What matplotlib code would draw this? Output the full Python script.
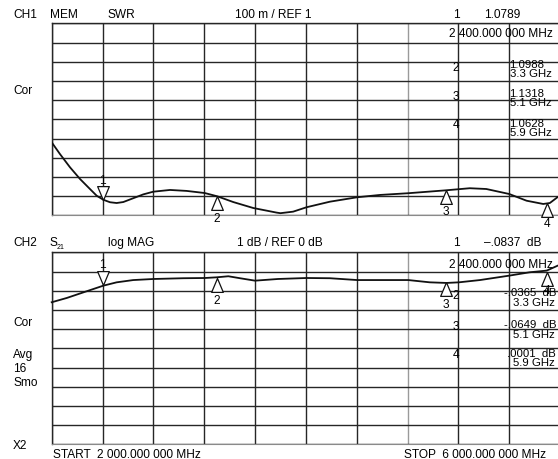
import numpy as np
import matplotlib
matplotlib.use("Agg")
import matplotlib.pyplot as plt

# --- data ---
# CH1: SWR vs frequency (GHz)
swr_freq = [2.0, 2.065, 2.144, 2.223, 2.301, 2.354, 2.406, 2.459, 2.511, 2.563,
            2.642, 2.721, 2.80, 2.931, 3.062, 3.204, 3.303, 3.429, 3.586, 3.77,
            3.80, 3.90, 4.006, 4.19, 4.404, 4.583, 4.806, 5.10, 5.29, 5.42,
            5.60, 5.737, 5.868, 5.92, 5.98]
swr_val = [1.380, 1.319, 1.250, 1.189, 1.137, 1.102, 1.081, 1.068, 1.064, 1.069,
           1.089, 1.109, 1.123, 1.132, 1.127, 1.116, 1.099, 1.069, 1.038, 1.014,
           1.011, 1.019, 1.042, 1.071, 1.094, 1.106, 1.115, 1.130, 1.141, 1.137,
           1.111, 1.076, 1.059, 1.064, 1.094]

# CH2: S21 log MAG (dB)
s21_freq = [2.0, 2.118, 2.249, 2.406, 2.511, 2.642, 2.80, 3.036, 3.204, 3.298,
            3.390, 3.482, 3.60, 3.78, 4.006, 4.19, 4.404, 4.583, 4.806, 4.976,
            5.107, 5.204, 5.37, 5.60, 5.76, 5.895, 5.98]
s21_val = [-0.197, -0.169, -0.132, -0.088, -0.066, -0.051, -0.044, -0.039, -0.0375, -0.033,
           -0.026, -0.039, -0.055, -0.044, -0.0375, -0.039, -0.051, -0.051, -0.051, -0.066,
           -0.070, -0.066, -0.051, -0.022, 0.0, 0.011, 0.043]

# markers (GHz, value)
swr_mk_freq = [2.4, 3.3, 5.1, 5.9]
swr_mk_val = [1.0789, 1.0988, 1.1318, 1.0628]
s21_mk_freq = [2.4, 3.3, 5.1, 5.9]
s21_mk_val = [-0.0837, -0.0365, -0.0649, 0.0001]

FONT = ["Liberation Sans", "DejaVu Sans"]
W, H = 558, 460
fig = plt.figure(figsize=(W / 100, H / 100), dpi=100)


def put(x, y, s, size=8.6, ha="left", **kw):
    """text at pixel coords (from top-left)"""
    fig.text(x / W, 1 - y / H, s, fontsize=size, ha=ha, va="center",
             family=FONT, **kw)


def make_axes(top_px, ylim):
    left, right, h = 51.7, 560.0, 192.0
    ax = fig.add_axes([left / W, 1 - (top_px + h) / H, (right - left) / W, h / H])
    ax.set_xlim(2.0, 6.0)
    ax.set_ylim(*ylim)
    ax.set_xticks(np.linspace(2.0, 6.0, 11))
    ax.set_yticks(np.linspace(ylim[0], ylim[1], 11))
    ax.tick_params(length=0, labelbottom=False, labelleft=False)
    ax.grid(True, color="#262626", lw=1.0)
    ax.get_xgridlines()[7].set_color("#9a9a9a")
    for s in ("left", "top"):
        ax.spines[s].set_color("#262626")
        ax.spines[s].set_linewidth(1.0)
    ax.spines["bottom"].set_color("#8a8a8a")
    ax.spines["right"].set_visible(False)
    ax.set_facecolor("white")
    return ax


UP = [(0, 0), (-0.42, -1), (0.42, -1), (0, 0)]
DOWN = [(0, 0), (-0.42, 1), (0.42, 1), (0, 0)]


def draw_markers(ax, freqs, vals, offsets):
    for i, (f, v, dy) in enumerate(zip(freqs, vals, offsets)):
        shape = DOWN if i == 0 else UP
        ax.plot([f], [v], marker=shape, ms=20, mfc="white", mec="#111",
                mew=0.9, ls="none", zorder=5, clip_on=False)
        ax.annotate(str(i + 1), xy=(f, v), xytext=(0, dy), textcoords="offset pixels",
                    ha="center", va="center", fontsize=8.6, family=FONT,
                    zorder=6, annotation_clip=False)


# ---- CH1 : SWR ----
ax1 = make_axes(24.3, (1.0, 2.0))
ax1.plot(swr_freq, swr_val, color="#111", lw=1.3, zorder=4)
draw_markers(ax1, swr_mk_freq, swr_mk_val, [20, -22, -21, -20])

# ---- CH2 : S21 ----
ax2 = make_axes(253.3, (-1.1316, 0.1316))
ax2.plot(s21_freq, s21_val, color="#111", lw=1.3, zorder=4, clip_on=False)
draw_markers(ax2, s21_mk_freq, s21_mk_val, [21, -22, -22, -18])

# ---- CH1 annotations ----
put(13, 14.7, "CH1")
put(50, 14.7, "MEM")
put(108, 14.7, "SWR")
put(273, 14.7, "100 m / REF 1", ha="center")
put(456, 14.7, "1", ha="center")
put(484, 14.7, "1.0789")
put(449, 34, "2 400.000 000 MHz")
put(13, 90.7, "Cor")

put(456, 68, "2", ha="center")
put(509, 64.5, "1.0988", size=8.2)
put(510, 74, "3.3 GHz", size=8.2)
put(456, 97, "3", ha="center")
put(509, 94, "1.1318", size=8.2)
put(510, 103.5, "5.1 GHz", size=8.2)
put(456, 125, "4", ha="center")
put(509, 124.5, "1.0628", size=8.2)
put(510, 133.5, "5.9 GHz", size=8.2)

# ---- CH2 annotations ----
put(13, 243.3, "CH2")
put(50, 243.3, "S")
put(57, 247.5, "21", size=5)
put(108, 243.3, "log MAG")
put(280, 243.3, "1 dB / REF 0 dB", ha="center")
put(456, 243.3, "1", ha="center")
put(542, 243.3, "\u2013.0837  dB", ha="right")
put(449, 265, "2 400.000 000 MHz")

put(456, 296, "2", ha="center")
put(556, 293.5, "-.0365  dB", ha="right", size=8.2)
put(555, 302.5, "3.3 GHz", ha="right", size=8.2)
put(456, 326.7, "3", ha="center")
put(556, 325.5, "-.0649  dB", ha="right", size=8.2)
put(555, 335, "5.1 GHz", ha="right", size=8.2)
put(456, 355, "4", ha="center")
put(556, 354, ".0001  dB", ha="right", size=8.2)
put(555, 363.5, "5.9 GHz", ha="right", size=8.2)

put(13, 323.3, "Cor")
put(13, 355, "Avg")
put(13, 369.3, "16")
put(13, 383.3, "Smo")
put(13, 446, "X2")
put(53, 455.5, "START  2 000.000 000 MHz")
put(404, 455.5, "STOP  6 000.000 000 MHz")

fig.savefig("out.png", dpi=100, facecolor="white")
